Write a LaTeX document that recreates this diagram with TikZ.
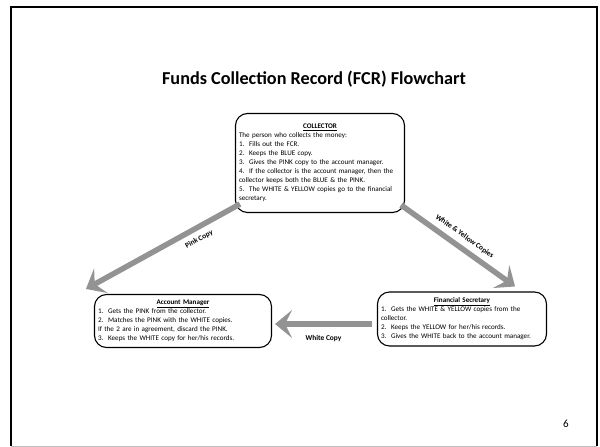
\documentclass[tikz,border=0pt]{standalone}
\usepackage{fontspec}
\setmainfont{Carlito}
\usetikzlibrary{arrows.meta,calc}

\tikzset{
  recbox/.style={draw, rounded corners=12pt, line width=1.1pt, align=left,
    font=\fontsize{7.1}{9}\selectfont, inner sep=3.5pt},
  copyarrow/.style={draw=gray!85, line width=5.5pt,
    -{Stealth[length=17pt, width=28pt, inset=7pt]}},
  copylabel/.style={font=\bfseries\fontsize{7.4}{8}\selectfont}
}
\newcommand{\boxtitle}[1]{\makebox[\linewidth]{\underline{\textbf{#1}}}}

\begin{document}
\begin{tikzpicture}[x=1pt, y=-1pt]
			\useasboundingbox (0,0) rectangle (600,447);
			\fill[white] (0,0) rectangle (600,447);
			\draw[line width=2.2pt] (11,446) -- (11,7) -- (597,7) -- (597,446);
			\draw[gray!50, line width=1pt] (11,446) -- (597,446);
		
			\node[font=\bfseries\fontsize{18.2}{20}\selectfont] (title) at (314,79) {Funds Collection Record (FCR) Flowchart};
		
			\node[recbox, text width=162pt, minimum height=99pt] (collector) at (320,163) {%
				\boxtitle{COLLECTOR}\\
				The person who collects the money:\\
				1.\ \ Fills out the FCR.\\
				2.\ \ Keeps the BLUE copy.\\
				3.\ \ Gives the PINK copy to the account manager.\\
				4.\ \ If the collector is the account manager, then the\\
				collector keeps both the BLUE \& the PINK.\\
				5.\ \ The WHITE \& YELLOW copies go to the financial\\
				secretary.};
			\node[recbox, text width=170pt, minimum height=53pt] (manager) at (183,321) {%
				\boxtitle{Account Manager}\\
				1.\ \ Gets the PINK from the collector.\\
				2.\ \ Matches the PINK with the WHITE copies.\\
				If the 2 are in agreement, discard the PINK.\\
				3.\ \ Keeps the WHITE copy for her/his records.};
			\node[recbox, text width=162pt, minimum height=54pt] (secretary) at (462,319) {%
				\boxtitle{Financial Secretary}\\
				1.\ \ Gets the WHITE \& YELLOW copies from the\\
				collector.\\
				2.\ \ Keeps the YELLOW for her/his records.\\
				3.\ \ Gives the WHITE back to the account manager.};
		
			\draw[copyarrow] ($(collector.south west)+(5,-9)$) -- ($(manager.north west)+(-8,-5)$)
				node[copylabel, pos=0.3, sloped, below, yshift=-2pt]{Pink Copy};
			\draw[copyarrow] ($(collector.south east)+(-4,-8)$) -- ($(secretary.north east)+(-32,-5)$)
				node[copylabel, midway, sloped, above, yshift=2pt]{White \& Yellow Copies};
			\draw[copyarrow] ($(secretary.west)+(-5,5)$) -- ($(manager.east)+(3,3)$)
				node[copylabel, midway, below, yshift=-5pt]{White Copy};
		
			\node[font=\fontsize{11}{12}\selectfont] (page) at (566,424) {6};
		\end{tikzpicture}
\end{document}
